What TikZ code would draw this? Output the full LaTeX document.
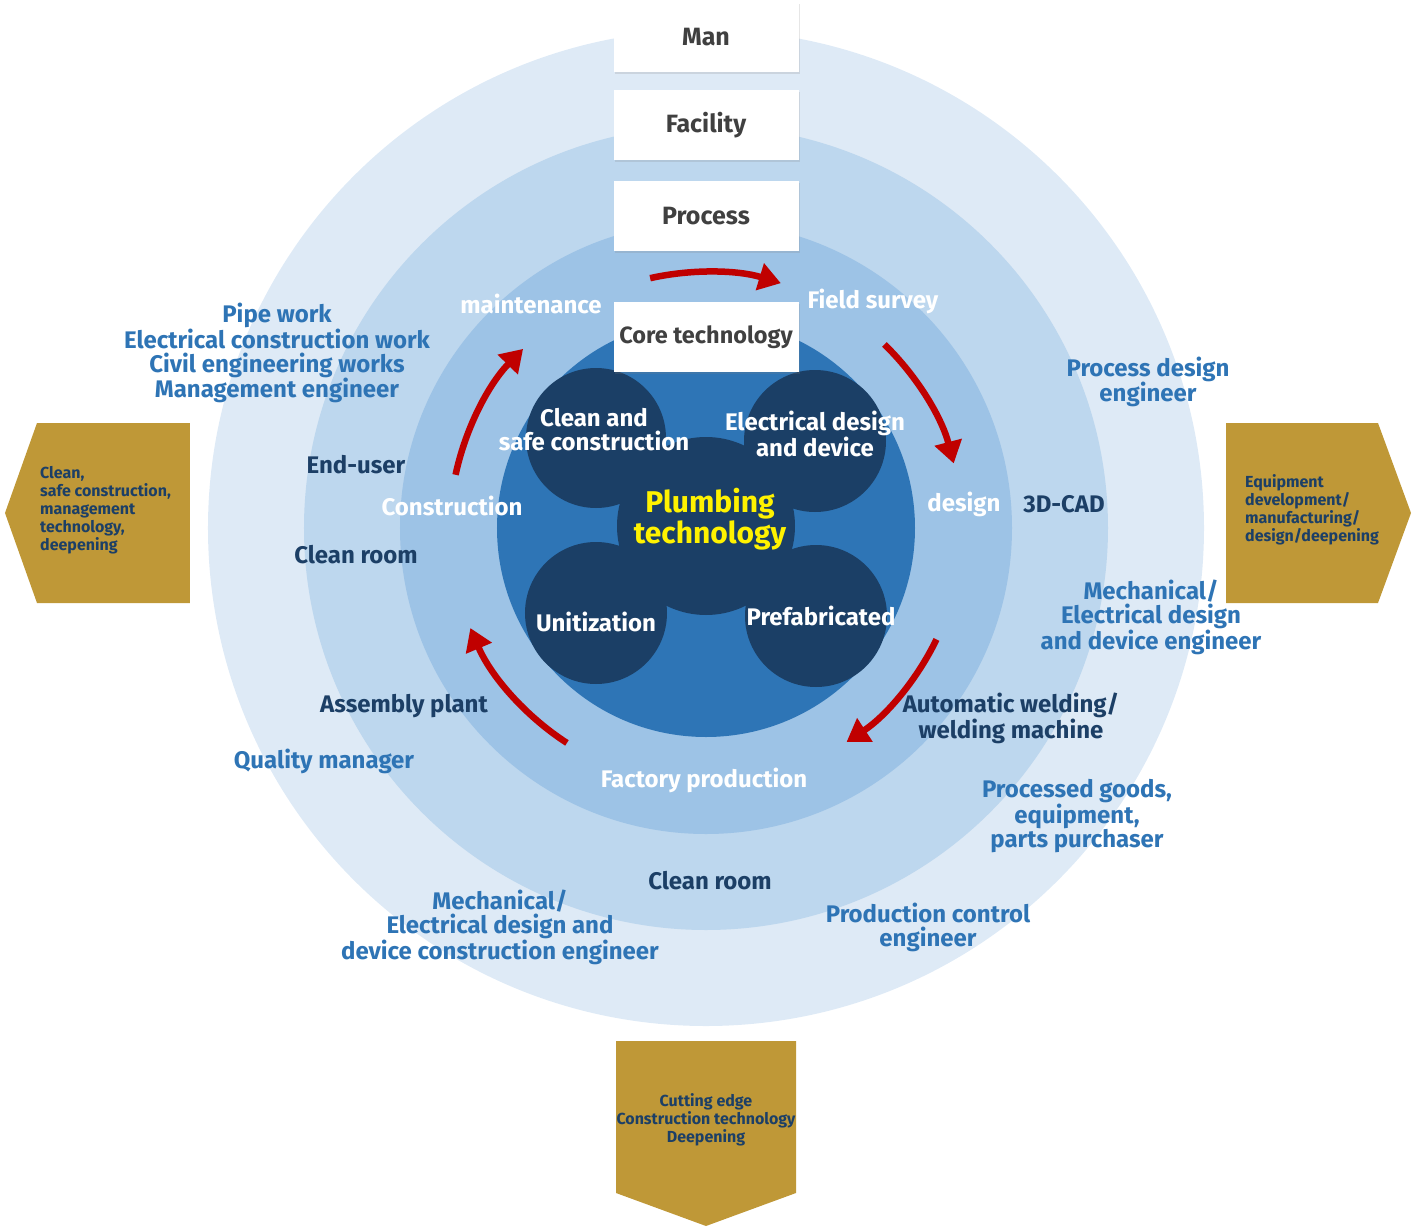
\documentclass[tikz,border=0pt]{standalone}
\usepackage{fontspec}
\setmainfont{Fira Sans}
\usepackage{xcolor}
\usetikzlibrary{arrows.meta,positioning,shadows}
\definecolor{ringA}{HTML}{DEEAF6}
\definecolor{ringB}{HTML}{BDD7EE}
\definecolor{ringC}{HTML}{9DC3E6}
\definecolor{coreblue}{HTML}{2E75B6}
\definecolor{blobnavy}{HTML}{1B3F66}
\definecolor{navytext}{HTML}{1C3F66}
\definecolor{bluetext}{HTML}{2E74B5}
\definecolor{gold}{HTML}{BF9837}
\definecolor{cyclered}{HTML}{C00000}
\definecolor{boxgray}{HTML}{404040}
\newcommand{\lblfont}{\bfseries\fontsize{24}{24}\selectfont}
\newcommand{\boxfont}{\bfseries\fontsize{25}{26}\selectfont}
\newcommand{\goldfont}{\bfseries\fontsize{16}{18}\selectfont}
\tikzset{
    x=1pt, y=1pt, % one unit is one pixel of the layout
    levelbox/.style={fill=white, minimum width=185pt, minimum height=70pt, text=boxgray, font=\boxfont,
        drop shadow={shadow xshift=1pt, shadow yshift=-2pt, opacity=0.2}}, % Man / Facility / Process
    navylbl/.style={text=navytext, font=\lblfont, align=center, inner sep=0pt},
    bluelbl/.style={text=bluetext, font=\lblfont, align=center, inner sep=0pt},
    whitelbl/.style={text=white, font=\lblfont, align=center, inner sep=0pt},
    goldlbl/.style={text=navytext, font=\goldfont, inner sep=0pt},
    cyclearrow/.style={draw=cyclered, line width=6.5pt, -{Triangle[width=27pt,length=22pt]}},
}

\begin{document}
\begin{tikzpicture}
    \useasboundingbox (-706,-701) rectangle (706,528);
    % rings
    \fill[ringA] (0,0) circle (498);
    \fill[ringB] (0,0) circle (402);
    \fill[ringC] (0,0) circle (306);
    \fill[coreblue] (0,0) circle (209);
    % core blob
    \fill[blobnavy] (0,2) circle (89);
    \fill[blobnavy] (-110,90) circle (70);
    \fill[blobnavy] (109,87) circle (71);
    \fill[blobnavy] (-110,-85) circle (71);
    \fill[blobnavy] (110,-88) circle (71);

    % gold signs
    \fill[gold] (-701,15) -- (-669,105) -- (-516,105) -- (-516,-75) -- (-669,-75) -- cycle;
    \fill[gold] (520,105) -- (672,105) -- (705,15) -- (672,-75) -- (520,-75) -- cycle;
    \fill[gold] (-90,-513) -- (90,-513) -- (90,-665) -- (0,-698) -- (-90,-665) -- cycle;

    % level boxes
    \node[levelbox] (man) at (0,491) {Man};
    \node[levelbox] (facility) at (0,403) {Facility};
    \node[levelbox] (process) at (0,312) {Process};
    \node[levelbox, font=\bfseries\fontsize{23.5}{26}\selectfont] (core) at (0,191) {Core technology};

    % core texts
    \node[whitelbl] (clean) at (-112,98) {Clean and\\safe construction};
    \node[whitelbl] (elec) at (109,94) {Electrical design\\and device};
    \node[whitelbl, text=yellow, font=\bfseries\fontsize{30}{29}\selectfont] (plumb) at (4,9) {Plumbing\\technology};
    \node[whitelbl] (unit) at (-110,-94) {Unitization};
    \node[whitelbl] (prefab) at (115,-88) {Prefabricated};

    % cycle
    \node[whitelbl] (maint) at (-175,224) {maintenance};
    \node[whitelbl] (survey) at (167,227) {Field survey};
    \node[whitelbl] (design) at (258,24) {design};
    \node[whitelbl] (factory) at (-2,-252) {Factory production};
    \node[whitelbl] (constr) at (-254,22) {Construction};

    \draw[cyclearrow] (102.6:256) arc[start angle=102.6, end angle=73, radius=256];
    \draw[cyclearrow] (45.8:256) arc[start angle=45.8, end angle=14.6, radius=256];
    \draw[cyclearrow] (-25.8:256) arc[start angle=-25.8, end angle=-56.7, radius=256];
    \draw[cyclearrow] (-122.9:256) arc[start angle=-122.9, end angle=-157, radius=256];
    \draw[cyclearrow] (168:256) arc[start angle=168, end angle=135.6, radius=256];

    % facility ring
    \node[navylbl] (enduser) at (-350,63) {End-user};
    \node[navylbl] (cleanL) at (-350,-27) {Clean room};
    \node[navylbl] (cad) at (358,24) {3D-CAD};
    \node[navylbl] (assembly) at (-302,-178) {Assembly plant};
    \node[navylbl] (welding) at (305,-190) {Automatic welding/\\welding machine};
    \node[navylbl] (cleanB) at (4,-353) {Clean room};

    % man ring
    \node[bluelbl] (pipe) at (-429,175) {Pipe work\\Electrical construction work\\Civil engineering works\\Management engineer};
    \node[bluelbl] (procdes) at (442,146) {Process design\\engineer};
    \node[bluelbl] (mecheng) at (445,-89) {Mechanical/\\Electrical design\\and device engineer};
    \node[bluelbl] (quality) at (-382,-233) {Quality manager};
    \node[bluelbl] (purchaser) at (371,-288) {Processed goods,\\equipment,\\parts purchaser};
    \node[bluelbl] (mechcon) at (-206,-399) {Mechanical/\\Electrical design and\\device construction engineer};
    \node[bluelbl] (prodctl) at (222,-399) {Production control\\engineer};

    % gold texts
    \node[goldlbl, anchor=west, align=left] (goldL) at (-666,18) {Clean,\\safe construction,\\management\\technology,\\deepening};
    \node[goldlbl, anchor=west, align=left] (goldR) at (539,18) {Equipment\\development/\\manufacturing/\\design/deepening};
    \node[goldlbl, align=center] (goldB) at (0,-592) {Cutting edge\\Construction technology\\Deepening};
\end{tikzpicture}
\end{document}
